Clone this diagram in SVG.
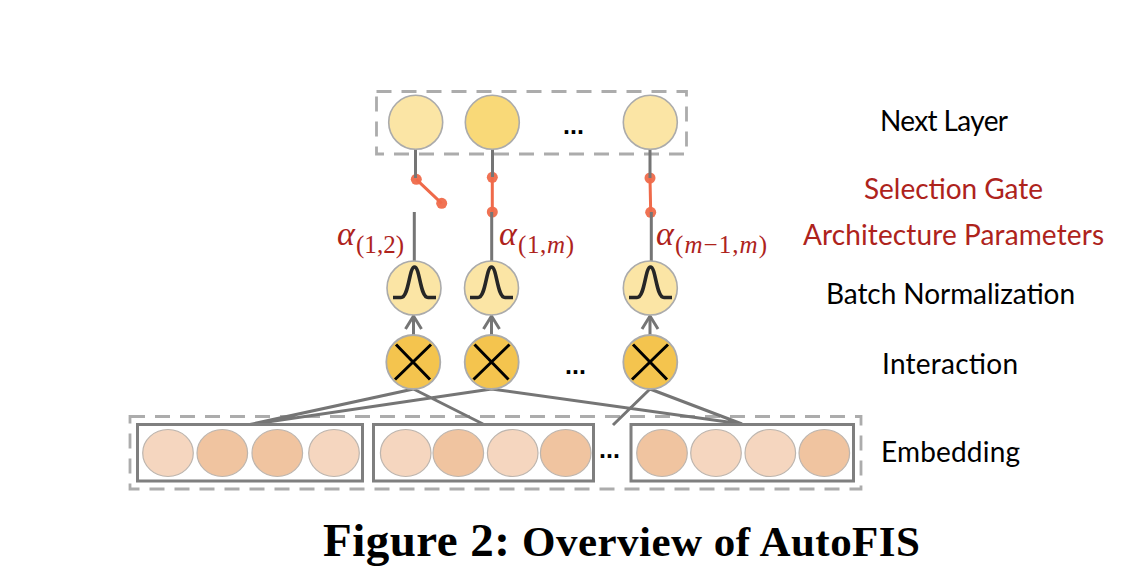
<svg xmlns="http://www.w3.org/2000/svg" width="1126" height="570" viewBox="0 0 1126 570">
<defs>
<style>
.dash{fill:none;stroke:#acacac;stroke-width:2.8;stroke-dasharray:15 10}
.box{fill:none;stroke:#7f7f7f;stroke-width:3}
.c{stroke:#ababab;stroke-width:1.6}
.l1{fill:#fbe5a5}.l2{fill:#f9d978}.mul{fill:#f4c44e;stroke:#ababab;stroke-width:1.8}
.e1{fill:#f5d6bf;stroke:#bdb5ae;stroke-width:1.2}.e2{fill:#f0c4a0;stroke:#bdb5ae;stroke-width:1.2}
.wire{stroke:#757575;stroke-width:3;fill:none}
.gate{stroke:#ef6a4a;stroke-width:3;fill:none}.dot{fill:#ef6a4a;fill-opacity:.95}
.x{stroke:#000;stroke-width:3;fill:none}
.bell{stroke:#262626;stroke-width:3.6;fill:none;stroke-linecap:butt}
.t{font-family:"Lato","Open Sans",sans-serif;font-size:28px;fill:#000}
.r{fill:#ae231c}
.a{font-family:"Liberation Serif",serif;font-style:italic;fill:#ae231c;font-size:34px}
.s{font-family:"Liberation Serif",serif;fill:#ae231c;font-size:25px}
.d{font-family:"Liberation Sans",sans-serif;font-size:25px;font-weight:bold;fill:#000}
.cap{font-family:"Liberation Serif",serif;font-weight:bold;fill:#000}
</style>
<marker id="arr" markerUnits="userSpaceOnUse" markerWidth="20" markerHeight="20" refX="15" refY="10" orient="auto"><path d="M2 2L15 10L2 18" fill="none" stroke="#757575" stroke-width="3"/></marker>
</defs>
<rect width="1126" height="570" fill="#fff"/>
<g id="containers">
<rect class="dash" x="376.500" y="91.500" width="310" height="62.500"/>
<rect class="dash" x="130" y="416.500" width="731" height="72.500"/>
</g>
<g id="connectors">
<path class="gate" d="M416.300 179.300L441.700 203.300M492.300 177.300V212M650 178L650.700 212.300"/>
<circle class="dot" cx="416.300" cy="179.300" r="5.500"/><circle class="dot" cx="441.700" cy="203.300" r="5.500"/>
<circle class="dot" cx="492.300" cy="177.300" r="5.500"/><circle class="dot" cx="492.300" cy="212" r="5.500"/>
<circle class="dot" cx="650" cy="178" r="5.500"/><circle class="dot" cx="650.700" cy="212.300" r="5.500"/>
<path class="wire" d="M415.500 149V178M492.500 149V177M650 149V178M414.300 212V262M491.700 212V262M651.300 212V262"/>
<path class="wire" marker-end="url(#arr)" d="M413.500 335V316"/>
<path class="wire" marker-end="url(#arr)" d="M491.500 335V316"/>
<path class="wire" marker-end="url(#arr)" d="M650 335V316"/>
<path class="wire" d="M413.500 389L250 424.500M491.500 389L250 424.500M413.500 389L483 424M491.500 389L742 424M650 389L742 424M650 389L613 425"/>
</g>
<g id="next-layer">
<circle class="c l1" cx="415.700" cy="122.300" r="27"/>
<circle class="c l2" cx="492.300" cy="122.300" r="27"/>
<circle class="c l1" cx="650.300" cy="122.300" r="27"/>
<text class="d" x="563" y="134">...</text>
</g>
<g id="batch-norm">
<circle class="c l1" cx="414" cy="288" r="27"/><path class="bell" d="M393 297.500H401C409 297.500 409 267 414.500 267C420 267 420 297.500 428 297.500H436"/>
<circle class="c l1" cx="491.500" cy="288" r="27"/><path class="bell" d="M470 297.500H478C486 297.500 486 267 491.500 267C497 267 497 297.500 505 297.500H513"/>
<circle class="c l1" cx="650.300" cy="288" r="27"/><path class="bell" d="M629 297.500H637C645 297.500 645 267 650.500 267C656 267 656 297.500 664 297.500H672"/>
</g>
<g id="interaction">
<circle class="mul" cx="413.300" cy="362" r="27"/><path class="x" d="M396 344.500L430 379.500M431 344.500L395 379.500"/>
<circle class="mul" cx="491.700" cy="362" r="27"/><path class="x" d="M474.500 344.500L508.500 379.500M509.500 344.500L473.500 379.500"/>
<circle class="mul" cx="650.300" cy="362" r="27"/><path class="x" d="M633 344.500L667 379.500M668 344.500L632 379.500"/>
<text class="d" x="565" y="374">...</text>
</g>
<g id="embedding">
<rect class="box" x="137.500" y="424.500" width="225" height="56.500"/>
<rect class="box" x="373.500" y="424.500" width="220" height="56.500"/>
<rect class="box" x="631" y="424.500" width="222.500" height="56.500"/>
<ellipse class="e1" cx="168" cy="453" rx="25.300" ry="23.500"/><ellipse class="e2" cx="222.300" cy="453" rx="25.300" ry="23.500"/><ellipse class="e2" cx="277.300" cy="453" rx="25.300" ry="23.500"/><ellipse class="e1" cx="334" cy="453" rx="25.300" ry="23.500"/>
<ellipse class="e1" cx="405.700" cy="453" rx="25.300" ry="23.500"/><ellipse class="e2" cx="458.300" cy="453" rx="25.300" ry="23.500"/><ellipse class="e1" cx="512.700" cy="453" rx="25.300" ry="23.500"/><ellipse class="e2" cx="565.700" cy="453" rx="25.300" ry="23.500"/>
<ellipse class="e2" cx="662" cy="453" rx="25.300" ry="23.500"/><ellipse class="e1" cx="716" cy="453" rx="25.300" ry="23.500"/><ellipse class="e1" cx="770.300" cy="453" rx="25.300" ry="23.500"/><ellipse class="e2" cx="824.300" cy="453" rx="25.300" ry="23.500"/>
<text class="d" x="599" y="458">...</text>
</g>
<g id="alpha-labels">
<text class="a" x="337" y="245">α</text><text class="s" x="356" y="253" textLength="48">(1,2)</text>
<text class="a" x="499" y="245">α</text><text class="s" x="518" y="253" textLength="56">(1,<tspan font-style="italic">m</tspan>)</text>
<text class="a" x="656" y="245">α</text><text class="s" x="675" y="253" textLength="92">(<tspan font-style="italic">m</tspan>−1,<tspan font-style="italic">m</tspan>)</text>
</g>
<g id="labels">
<text class="t" x="880" y="131" textLength="128">Next Layer</text>
<text class="t r" x="864" y="199" textLength="179">Selection Gate</text>
<text class="t r" x="803" y="245" textLength="301">Architecture Parameters</text>
<text class="t" x="826" y="304" textLength="249">Batch Normalization</text>
<text class="t" x="882" y="374" textLength="136">Interaction</text>
<text class="t" x="881" y="462" textLength="139">Embedding</text>
</g>
<g id="caption">
<text class="cap" x="323" y="556" font-size="47" textLength="187">Figure 2:</text>
<text class="cap" x="522" y="556" font-size="43" textLength="398">Overview of AutoFIS</text>
</g>
</svg>
